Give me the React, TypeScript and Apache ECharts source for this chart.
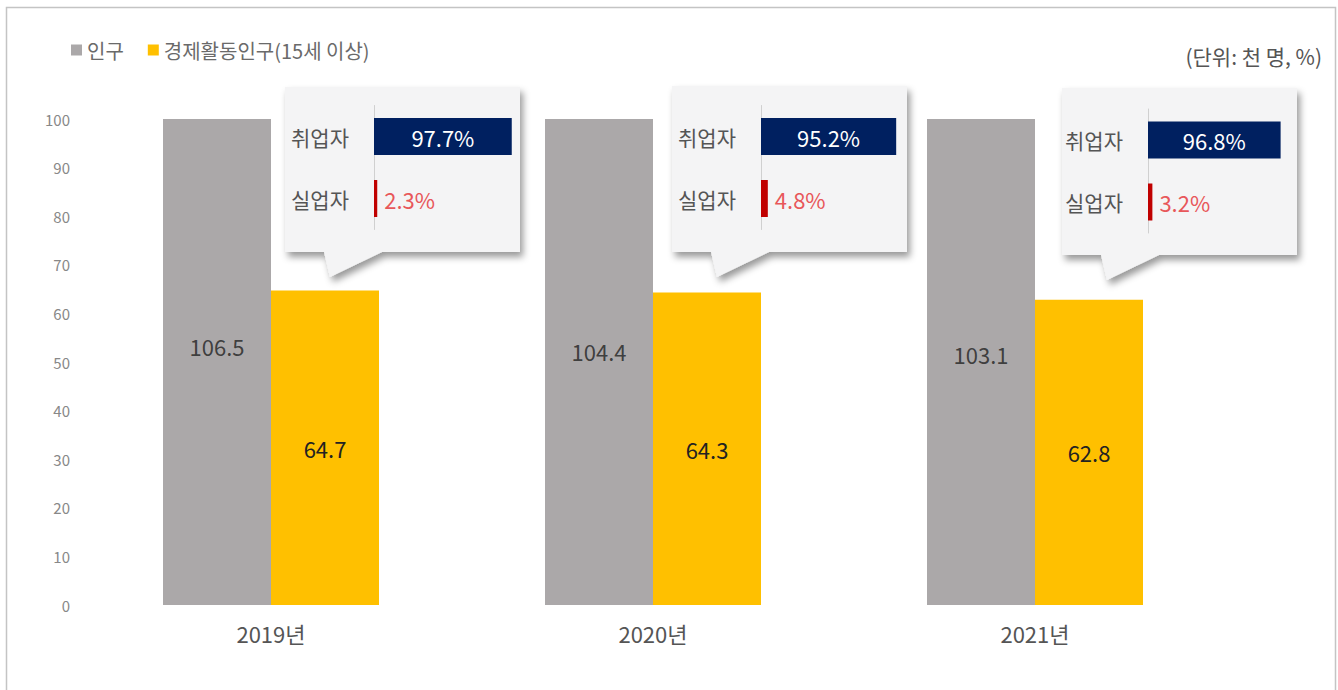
import React, { useEffect, useRef } from "react";
import * as echarts from "echarts";

const years = ["2019년", "2020년", "2021년"];
const population = [106.5, 104.4, 103.1];
const econActive = [64.7, 64.3, 62.8];
const employedRate = [97.7, 95.2, 96.8];
const unemployedRate = [2.3, 4.8, 3.2];
const rateCats = ["취업자", "실업자"];
const legendNames = ["인구", "경제활동인구(15세 이상)"];
const unitText = "(단위: 천 명, %)";

const FONT = "'Noto Sans CJK KR', 'Noto Sans', sans-serif";

// callout layout (positions only)
const boxes = [
  { x: 285, y: 87, w: 235, h: 165 },
  { x: 672, y: 86, w: 235, h: 166 },
  { x: 1062, y: 88, w: 235, h: 167 },
];
const miniLeft = [374, 761, 1148];
const miniTop = [105.5, 105.5, 109];
const miniWidth = [141, 142, 137];

export default function App() {
  const ref = useRef<HTMLDivElement>(null);
  useEffect(() => {
    if (!ref.current) return;
    const chart = echarts.init(ref.current, undefined, { renderer: "svg" });

    const grids: any[] = [{ left: 80, right: 112, top: 119, bottom: 85 }];
    const xAxes: any[] = [
      {
        type: "category",
        data: years,
        gridIndex: 0,
        axisLine: { show: false },
        axisTick: { show: false },
        axisLabel: { fontSize: 22, color: "#555", fontFamily: FONT, margin: 17 },
      },
    ];
    const yAxes: any[] = [
      {
        type: "value",
        gridIndex: 0,
        min: 0,
        max: 100,
        interval: 10,
        axisLine: { show: false },
        axisTick: { show: false },
        splitLine: { show: false },
        axisLabel: { fontSize: 15, color: "#888", fontFamily: FONT, margin: 10 },
      },
    ];
    const series: any[] = [
      {
        name: legendNames[0],
        type: "bar",
        data: population,
        barWidth: 108,
        barGap: "0%",
        clip: true,
        itemStyle: { color: "#aba8a9" },
        xAxisIndex: 0,
        yAxisIndex: 0,
      },
      {
        name: legendNames[1],
        type: "bar",
        data: econActive,
        barWidth: 108,
        barGap: "0%",
        itemStyle: { color: "#ffc000" },
        label: {
          show: true,
          position: "inside",
          fontSize: 22,
          color: "#222",
          fontFamily: FONT,
          formatter: (p: any) => p.value.toFixed(1),
        },
        xAxisIndex: 0,
        yAxisIndex: 0,
      },
      {
        name: "pop-label",
        type: "scatter",
        data: population.map((v, i) => [i, v / 2]),
        symbolSize: 0,
        silent: true,
        label: {
          show: true,
          position: "inside",
          offset: [-54, 0],
          fontSize: 22,
          color: "#222",
          fontFamily: FONT,
          formatter: (p: any) => population[p.dataIndex].toFixed(1),
        },
        xAxisIndex: 0,
        yAxisIndex: 0,
        z: 5,
      },
    ];

    const graphics: any[] = [
      {
        type: "rect",
        shape: { x: 6.5, y: 7.5, width: 1329, height: 720 },
        style: { fill: "none", stroke: "#c4c4c4", lineWidth: 1.5 },
        z: 0,
        silent: true,
      },
      {
        type: "text",
        right: 16,
        top: 45,
        style: { text: unitText, fill: "#555", font: `21px ${FONT}` },
      },
    ];

    years.forEach((_, i) => {
      const b = boxes[i];
      graphics.push({
        type: "polygon",
        z: 1,
        shape: {
          points: [
            [b.x, b.y],
            [b.x + b.w, b.y],
            [b.x + b.w, b.y + b.h],
            [b.x + 97, b.y + b.h],
            [b.x + 45, b.y + b.h + 25],
            [b.x + 39, b.y + b.h],
            [b.x, b.y + b.h],
          ],
        },
        style: {
          fill: "#f4f4f5",
          shadowBlur: 7,
          shadowOffsetX: 3,
          shadowOffsetY: 5,
          shadowColor: "rgba(0,0,0,0.4)",
        },
      });
      const gi = i + 1;
      grids.push({ left: miniLeft[i], top: miniTop[i], width: miniWidth[i], height: 124 });
      xAxes.push({
        type: "value",
        gridIndex: gi,
        min: 0,
        max: 100,
        show: false,
      });
      yAxes.push({
        type: "category",
        gridIndex: gi,
        data: rateCats,
        inverse: true,
        z: 10,
        axisLine: { show: true, lineStyle: { color: "#d0d0d0", width: 1 } },
        axisTick: { show: false },
        splitLine: { show: false },
        axisLabel: { fontSize: 21, color: "#555", fontFamily: FONT, margin: 25 },
      });
      series.push({
        name: "rate" + i,
        type: "bar",
        xAxisIndex: gi,
        yAxisIndex: gi,
        barWidth: 37,
        z: 10,
        data: [
          {
            value: employedRate[i],
            itemStyle: { color: "#002060" },
            label: {
              show: true,
              position: "inside",
              color: "#fff",
              fontSize: 22,
              fontFamily: FONT,
              formatter: (p: any) => p.value.toFixed(1) + "%",
            },
          },
          {
            value: unemployedRate[i],
            itemStyle: { color: "#c00000" },
            label: {
              show: true,
              position: "right",
              distance: 7,
              color: "#e8575a",
              fontSize: 22,
              fontFamily: FONT,
              formatter: (p: any) => p.value.toFixed(1) + "%",
            },
          },
        ],
      });
    });

    chart.setOption({
      animation: false,
      backgroundColor: "#fff",
      textStyle: { fontFamily: FONT },
      legend: {
        data: legendNames,
        left: 66,
        top: 35,
        icon: "rect",
        itemWidth: 11,
        itemHeight: 11,
        itemGap: 24,
        textStyle: { fontSize: 20, color: "#6a6a6a", fontFamily: FONT },
      },
      grid: grids,
      xAxis: xAxes,
      yAxis: yAxes,
      series,
      graphic: graphics,
    });
    return () => chart.dispose();
  }, []);
  return (
    <div
      ref={ref}
      style={{ position: "fixed", left: 0, top: 0, width: 1338, height: 690 }}
    />
  );
}
